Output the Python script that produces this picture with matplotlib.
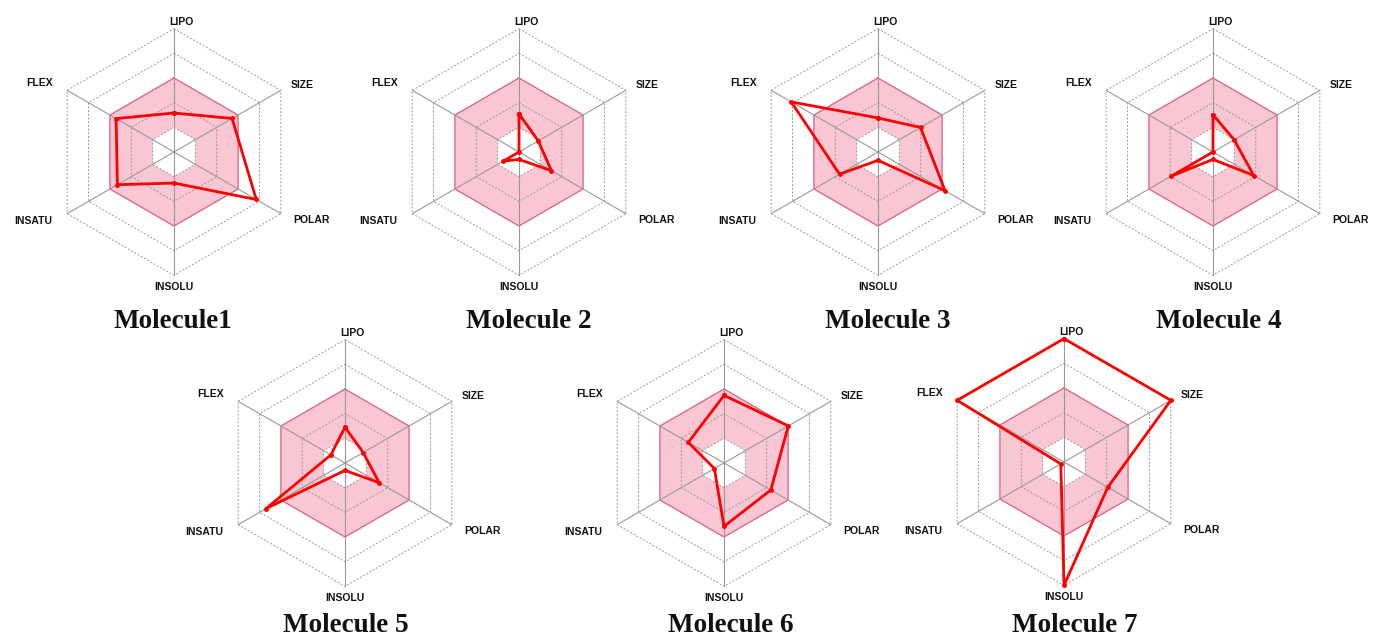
import numpy as np
import matplotlib.pyplot as plt

# radar axes, clockwise from the top
axis_names = ['LIPO', 'SIZE', 'POLAR', 'INSOLU', 'INSATU', 'FLEX']
axis_angles = np.deg2rad([90, 30, -30, -90, -150, 150])

# property scores on a 0-5 scale (pink band = 1..3)
molecule_1 = [1.58, 2.72, 3.85, 1.26, 2.65, 2.71]
molecule_2 = [1.55, 0.90, 1.52, 0.30, 0.74, 0.0]
molecule_3 = [1.38, 1.99, 3.14, 0.34, 1.80, 4.06]
molecule_4 = [1.51, 0.99, 1.91, 0.30, 1.98, 0.0]
molecule_5 = [1.45, 0.85, 1.60, 0.30, 3.70, 0.66]
molecule_6 = [2.74, 3.01, 2.19, 2.57, 0.45, 1.67]
molecule_7 = [5.0, 5.0, 2.05, 5.0, 0.15, 5.0]

titles = ['Molecule1', 'Molecule 2', 'Molecule 3', 'Molecule 4',
          'Molecule 5', 'Molecule 6', 'Molecule 7']
scores = [molecule_1, molecule_2, molecule_3, molecule_4,
          molecule_5, molecule_6, molecule_7]

W, H = 1374, 636
UNIT = 24.67          # pixels per score unit
HALF = 150            # half size of each panel in pixels

# panel centres and title positions (pixels from top-left)
centres = [(174, 152), (519, 152), (878, 152), (1213, 152),
           (345, 463), (724, 463), (1064, 462)]
title_pos = [(173, 322), (529, 322), (888, 322), (1219, 322),
             (346, 625), (731, 625), (1075, 625)]

label_off = {'LIPO': (0.28, 5.27), 'SIZE': (5.19, 2.72), 'POLAR': (5.59, -2.76),
             'INSOLU': (0.0, -5.47), 'INSATU': (-5.72, -2.8), 'FLEX': (-5.43, 2.8)}

pink = '#f9c6d3'
pink_edge = '#d9607c'
grid_col = '#999999'


def hexagon(r):
    a = np.append(axis_angles, axis_angles[0])
    return r * np.cos(a), r * np.sin(a)


fig = plt.figure(figsize=(W / 100, H / 100), dpi=100)

for (cx, cy), vals, title, (tx, ty) in zip(centres, scores, titles, title_pos):
    ax = fig.add_axes([(cx - HALF) / W, 1 - (cy + HALF) / H, 2 * HALF / W, 2 * HALF / H])
    lim = HALF / UNIT
    ax.set_xlim(-lim, lim)
    ax.set_ylim(-lim, lim)
    ax.set_aspect('equal')
    ax.axis('off')

    # optimal range band
    hx, hy = hexagon(3)
    ax.fill(hx, hy, color=pink, lw=0, zorder=1)
    hx, hy = hexagon(1)
    ax.fill(hx, hy, color='white', lw=0, zorder=1)

    # grid rings and spokes
    for r in [1, 2, 4, 5]:
        hx, hy = hexagon(r)
        ax.plot(hx, hy, color=grid_col, lw=0.7, ls=(0, (2, 1.8)), zorder=2)
    hx, hy = hexagon(3)
    ax.plot(hx, hy, color=pink_edge, lw=0.9, zorder=2)
    for a in axis_angles:
        ax.plot([0, 5 * np.cos(a)], [0, 5 * np.sin(a)], color=grid_col, lw=0.8, zorder=2)

    # molecule profile
    v = np.append(vals, vals[0])
    a = np.append(axis_angles, axis_angles[0])
    ax.plot(v * np.cos(a), v * np.sin(a), color='#ff0000', lw=2, marker='o',
            ms=2.5, zorder=3)

    for name in axis_names:
        dx, dy = label_off[name]
        ax.text(dx, dy, name, ha='center', va='center', fontsize=7.5,
                fontweight='bold', family='Liberation Sans', color='#111111')

    fig.text(tx / W, 1 - ty / H, title, ha='center', va='center', fontsize=19.5,
             fontweight='bold', family='Liberation Serif', color='#111111')

fig.savefig('out.png', dpi=100)
